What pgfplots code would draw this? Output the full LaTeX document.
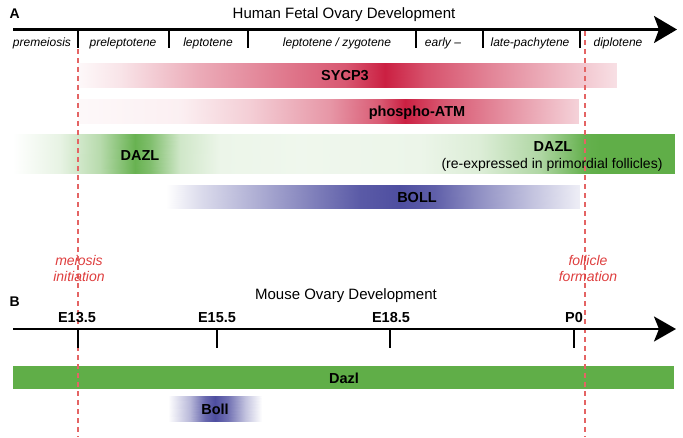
\documentclass[border=0pt]{standalone}
\usepackage{fontspec}
\setmainfont{Liberation Sans}
\usepackage{pgfplots}
\pgfplotsset{compat=1.18}
\usetikzlibrary{arrows.meta}
\definecolor{dazlgreen}{RGB}{96,174,72}
\definecolor{redtxt}{RGB}{222,62,62}
\definecolor{reddash}{RGB}{228,100,100}
\pgfplotsset{
  colormap={reds}{rgb255(0cm)=(255,255,255); rgb255(1cm)=(203,32,66)},
  colormap={greens}{rgb255(0cm)=(255,255,255); rgb255(1cm)=(96,174,72)},
  colormap={blues}{rgb255(0cm)=(255,255,255); rgb255(1cm)=(78,78,160)},
}
\pgfplotstableread{
x y c
78 63 0.03
120 63 0.12
200 63 0.38
300 63 0.64
345 63 0.75
385 63 1.0
425 63 0.78
490 63 0.55
560 63 0.32
617 63 0.14
78 87 0.03
120 87 0.12
200 87 0.38
300 87 0.64
345 87 0.75
385 87 1.0
425 87 0.78
490 87 0.55
560 87 0.32
617 87 0.14
}\sycp
\pgfplotstableread{
x y c
78 99 0.03
180 99 0.07
250 99 0.22
330 99 0.47
380 99 0.74
405 99 1.0
440 99 0.77
500 99 0.52
579 99 0.2
78 123 0.03
180 123 0.07
250 123 0.22
330 123 0.47
380 123 0.74
405 123 1.0
440 123 0.77
500 123 0.52
579 123 0.2
}\atm
\pgfplotstableread{
x y c
13 134 0
60 134 0.15
100 134 0.45
135 134 0.95
150 134 0.8
180 134 0.3
220 134 0.12
300 134 0.1
420 134 0.12
480 134 0.22
540 134 0.5
585 134 0.97
600 134 1.0
675 134 1.0
13 173 0
60 173 0.15
100 173 0.45
135 173 0.95
150 173 0.8
180 173 0.3
220 173 0.12
300 173 0.1
420 173 0.12
480 173 0.22
540 173 0.5
585 173 0.97
600 173 1.0
675 173 1.0
}\dazlh
\pgfplotstableread{
x y c
166 185 0
200 185 0.2
260 185 0.47
320 185 0.75
360 185 0.93
400 185 1.0
435 185 0.9
480 185 0.62
530 185 0.35
579 185 0.1
166 208 0
200 208 0.2
260 208 0.47
320 208 0.75
360 208 0.93
400 208 1.0
435 208 0.9
480 208 0.62
530 208 0.35
579 208 0.1
}\bollh
\pgfplotstableread{
x y c
168 396 0
190 396 0.4
205 396 0.85
215 396 1.0
228 396 0.8
245 396 0.35
262 396 0
168 421 0
190 421 0.4
205 421 0.85
215 421 1.0
228 421 0.8
245 421 0.35
262 421 0
}\bollm
\begin{document}
\begin{tikzpicture}
\begin{axis}[
  scale only axis, width=683pt, height=437pt,
  xmin=0, xmax=683, ymin=0, ymax=437, y dir=reverse,
  hide axis, clip=false,
  point meta min=0, point meta max=1,
]
% gradient bars
\addplot[surf, shader=interp, colormap name=reds, mesh/cols=10, point meta=explicit] table[meta=c] {\sycp};
\addplot[surf, shader=interp, colormap name=reds, mesh/cols=9, point meta=explicit] table[meta=c] {\atm};
\addplot[surf, shader=interp, colormap name=greens, mesh/cols=14, point meta=explicit] table[meta=c] {\dazlh};
\addplot[surf, shader=interp, colormap name=blues, mesh/cols=10, point meta=explicit] table[meta=c] {\bollh};
\addplot[surf, shader=interp, colormap name=blues, mesh/cols=7, point meta=explicit] table[meta=c] {\bollm};
\addplot[fill=dazlgreen, draw=none] coordinates {(13,366) (674,366) (674,389) (13,389)} -- cycle;

% dashed reference lines
\addplot[reddash, line width=1.3pt, dash pattern=on 5pt off 4pt] coordinates {(78,31) (78,437)};
\addplot[reddash, line width=1.3pt, dash pattern=on 5pt off 4pt] coordinates {(585,31) (585,437)};

% timeline arrows
\addplot[black, line width=2.5pt, -{Stealth[length=23pt, width=27pt, inset=5pt]}] coordinates {(13,29.5) (677,29.5)};
\addplot[black, line width=2.4pt, -{Stealth[length=22pt, width=25pt, inset=5pt]}] coordinates {(13,329) (676,329)};
\pgfplotsinvokeforeach{78,169,248,416,483,580}{
  \addplot[black, line width=2.4pt] coordinates {(#1,29.5) (#1,48)};
}
\pgfplotsinvokeforeach{78,217,390,574}{
  \addplot[black, line width=2.4pt] coordinates {(#1,329) (#1,348)};
}

% texts
\node[anchor=base west, font=\fontsize{14}{16}\selectfont\bfseries] at (6,18.5) {A};
\node[anchor=base, font=\fontsize{15}{18}\selectfont] at (344,18) {Human Fetal Ovary Development};
\begin{scope}[every node/.style={anchor=base, font=\fontsize{12}{14}\selectfont\itshape}]
\node at (42,46) {premeiosis};
\node at (123,46) {preleptotene};
\node at (208,46) {leptotene};
\node at (337,46) {leptotene / zygotene};
\node at (443,46) {early –};
\node at (530,46) {late-pachytene};
\node at (618,46) {diplotene};
\end{scope}
\begin{scope}[every node/.style={anchor=base, font=\fontsize{14.5}{17}\selectfont\bfseries}]
\node at (345,80.5) {SYCP3};
\node at (417,116) {phospho-ATM};
\node at (140,160) {DAZL};
\node at (553,151.5) {DAZL};
\node at (417,202) {BOLL};
\node at (77,322) {E13.5};
\node at (217,322) {E15.5};
\node at (391,322) {E18.5};
\node at (574,322) {P0};
\node at (344,383) {Dazl};
\node at (215,414) {Boll};
\end{scope}
\node[anchor=base, font=\fontsize{14}{16}\selectfont] at (552,168) {(re-expressed in primordial follicles)};
\begin{scope}[every node/.style={anchor=base, text=redtxt, font=\fontsize{14}{16}\selectfont\itshape}]
\node at (79,265) {meiosis};
\node at (79,281) {initiation};
\node at (588,265) {follicle};
\node at (588,281) {formation};
\end{scope}
\node[anchor=base west, font=\fontsize{14}{16}\selectfont\bfseries] at (6,306.5) {B};
\node[anchor=base, font=\fontsize{15}{18}\selectfont] at (346,299) {Mouse Ovary Development};
\end{axis}
\pgfresetboundingbox
\path[use as bounding box] (current axis.south west) rectangle (current axis.north east);
\end{tikzpicture}
\end{document}
